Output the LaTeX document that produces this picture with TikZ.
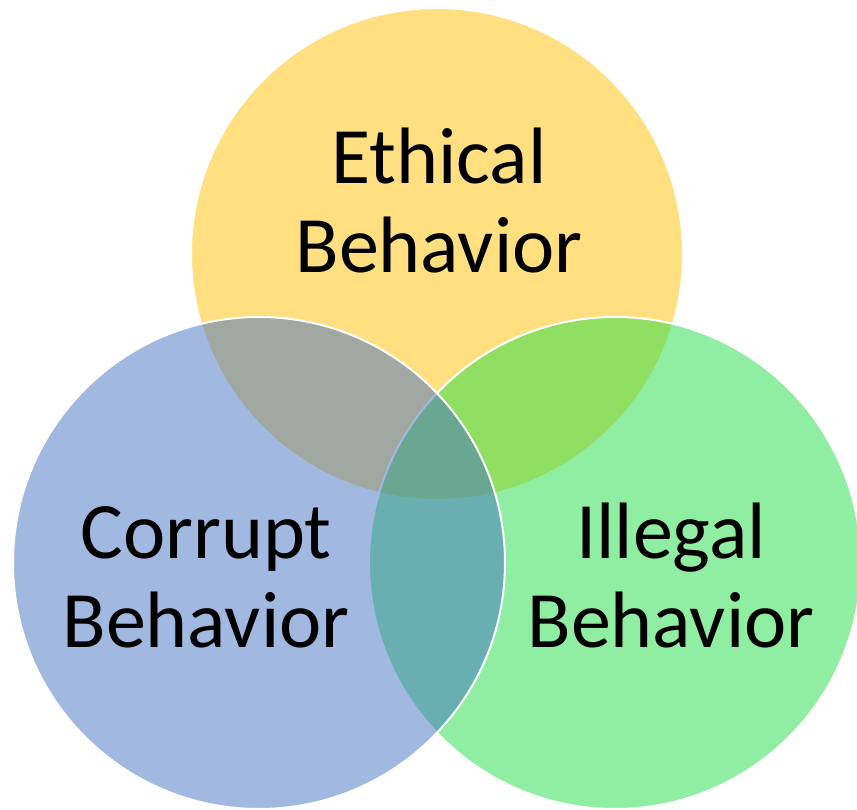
\documentclass[tikz,border=0pt]{standalone}
\usepackage{fontspec}
\setmainfont{Carlito}
\definecolor{ethicalfill}{RGB}{255,192,0}
\definecolor{corruptfill}{RGB}{68,114,196}
\definecolor{illegalfill}{RGB}{33,221,69}
\begin{document}
\begin{tikzpicture}[x=1pt,y=-1pt,
  venn/.style={circle, inner sep=0pt, minimum size=492pt, draw=white,
    line width=2pt, fill opacity=0.5, draw opacity=1},
  label/.style={align=center, anchor=base, inner sep=0pt,
    font=\fontsize{80}{89}\selectfont}]
\useasboundingbox (0,0) rectangle (857,810);
% three overlapping sets, drawn top, right, left
\node[venn, fill=ethicalfill] (ethical) at (437,254) {};
\node[venn, fill=illegalfill] (illegal) at (615,563) {};
\node[venn, fill=corruptfill] (corrupt) at (259,563) {};
% set names (anchored at the baseline of the second line)
\node[label] (ethicaltext) at (439,273) {Ethical\\Behavior};
\node[label] (corrupttext) at (206,647) {Corrupt\\Behavior};
\node[label] (illegaltext) at (671,647) {Illegal\\Behavior};
\end{tikzpicture}
\end{document}
